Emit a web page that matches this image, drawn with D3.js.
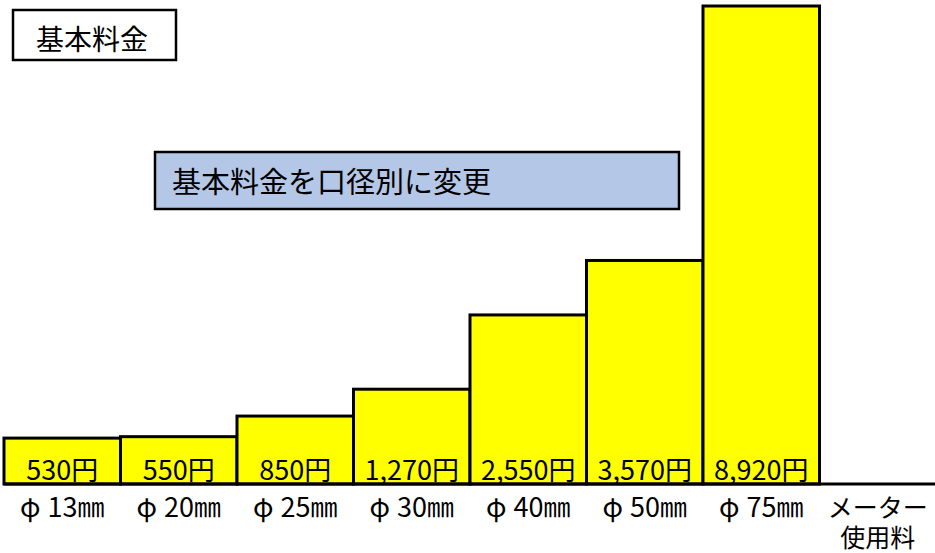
<!DOCTYPE html>
<html lang="ja">
<head>
<meta charset="utf-8">
<script src="https://cdn.jsdelivr.net/npm/d3@7"></script>
<style>
    html, body { margin: 0; padding: 0; background: #fff; }
    svg { display: block; font-family: "Noto Sans CJK JP", sans-serif; }
</style>
</head>
<body>
<svg class="chart" width="935" height="553"></svg>
<script>
// 口径ごとの基本料金（円）
const sizes = ['φ13㎜', 'φ20㎜', 'φ25㎜', 'φ30㎜', 'φ40㎜', 'φ50㎜', 'φ75㎜', 'メーター\n使用料']
const fees = [530, 550, 850, 1270, 2550, 3570, 8920, null]
const title = '基本料金'
const note = '基本料金を口径別に変更'

const width = 935
const height = 553
const baseY = 484

const svg = d3.select('.chart')

const x = d3.scaleBand()
    .domain(sizes)
    .range([4, 936])
    .padding(0)

// the original drawing is not to scale, a power curve follows it well
const y = d3.scalePow()
    .exponent(0.83)
    .domain([0, d3.max(fees)])
    .range([baseY, 6])

const rows = sizes.map((s, i) => ({ size: s, fee: fees[i] }))
const fmt = d3.format(',')
const mid = d => x(d.size) + x.bandwidth() / 2

// bars
svg.selectAll('.bar')
    .data(rows.filter(d => d.fee !== null))
    .enter()
    .append('rect')
    .attr('class', 'bar')
    .attr('x', d => x(d.size))
    .attr('y', d => y(d.fee))
    .attr('width', x.bandwidth())
    .attr('height', d => baseY - y(d.fee))
    .attr('fill', '#ffff00')
    .attr('stroke', '#000')
    .attr('stroke-width', 3)

// base line
svg.append('line')
    .attr('x1', x.range()[0])
    .attr('x2', width)
    .attr('y1', baseY)
    .attr('y2', baseY)
    .attr('stroke', '#000')
    .attr('stroke-width', 3)

// value labels inside the bars
svg.selectAll('.value')
    .data(rows.filter(d => d.fee !== null))
    .enter()
    .append('text')
    .attr('class', 'value')
    .attr('x', mid)
    .attr('y', 480)
    .attr('text-anchor', 'middle')
    .attr('font-size', 27)
    .attr('fill', '#000')
    .text(d => fmt(d.fee) + '円')

// category labels
const cats = svg.selectAll('.cat')
    .data(rows)
    .enter()
    .append('text')
    .attr('class', 'cat')
    .attr('x', mid)
    .attr('y', 517)
    .attr('text-anchor', 'middle')
    .attr('fill', '#000')

// diameter labels: wider gap after φ, like the full width glyph of the original
cats.filter(d => d.size.startsWith('φ'))
    .attr('font-size', 27)
    .each(function (d) {
        const t = d3.select(this)
        t.append('tspan').text(d.size.slice(0, 1))
        t.append('tspan').attr('dx', 7).text(d.size.slice(1))
    })

cats.filter(d => !d.size.startsWith('φ'))
    .attr('font-size', 25)
    .selectAll('tspan')
    .data(d => d.size.split('\n').map(t => ({ t, cx: mid(d) })))
    .enter()
    .append('tspan')
    .attr('x', d => d.cx)
    .attr('dy', (d, i) => i === 0 ? 0 : 30)
    .text(d => d.t)

// title box
svg.append('rect')
    .attr('x', 13)
    .attr('y', 10)
    .attr('width', 163)
    .attr('height', 50)
    .attr('fill', '#fff')
    .attr('stroke', '#000')
    .attr('stroke-width', 2.5)

svg.append('text')
    .attr('x', 92)
    .attr('y', 50)
    .attr('text-anchor', 'middle')
    .attr('font-size', 28)
    .attr('fill', '#000')
    .text(title)

// note box
svg.append('rect')
    .attr('x', 155)
    .attr('y', 152)
    .attr('width', 524)
    .attr('height', 57)
    .attr('fill', '#b4c7e7')
    .attr('stroke', '#000')
    .attr('stroke-width', 2.5)

svg.append('text')
    .attr('x', 172)
    .attr('y', 193)
    .attr('font-size', 29)
    .attr('fill', '#000')
    .text(note)
</script>
</body>
</html>
